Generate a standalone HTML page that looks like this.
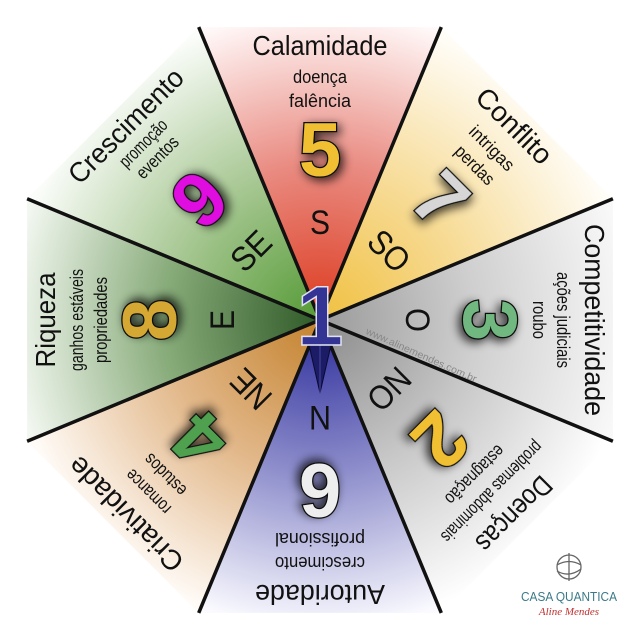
<!DOCTYPE html>
<html><head><meta charset="utf-8"><style>
html,body{margin:0;padding:0;background:#fff;}
svg{display:block;}
.t{font-family:"Liberation Sans",sans-serif;fill:#111;text-anchor:middle;}
.d{font-family:"Liberation Sans",sans-serif;font-weight:bold;font-size:76px;text-anchor:middle;stroke:#111;stroke-width:2.5;paint-order:stroke;}
</style></head><body>
<svg width="640" height="640" viewBox="0 0 640 640" xmlns="http://www.w3.org/2000/svg">
<defs>
<radialGradient id="g0" gradientUnits="userSpaceOnUse" cx="320" cy="320" r="310"><stop offset="0" stop-color="#dc3a1e"/><stop offset="0.5" stop-color="#e98a80"/><stop offset="1" stop-color="#fff8f8"/></radialGradient>
<radialGradient id="g1" gradientUnits="userSpaceOnUse" cx="320" cy="320" r="310"><stop offset="0" stop-color="#f0c040"/><stop offset="0.5" stop-color="#f7dc98"/><stop offset="1" stop-color="#fffdf8"/></radialGradient>
<radialGradient id="g2" gradientUnits="userSpaceOnUse" cx="320" cy="320" r="310"><stop offset="0" stop-color="#9a9a9a"/><stop offset="0.5" stop-color="#cfcfcf"/><stop offset="1" stop-color="#f8f8f8"/></radialGradient>
<radialGradient id="g3" gradientUnits="userSpaceOnUse" cx="320" cy="320" r="310"><stop offset="0" stop-color="#8a8a8a"/><stop offset="0.5" stop-color="#c8c8c8"/><stop offset="1" stop-color="#ffffff"/></radialGradient>
<radialGradient id="g4" gradientUnits="userSpaceOnUse" cx="320" cy="320" r="310"><stop offset="0" stop-color="#2a2a9a"/><stop offset="0.5" stop-color="#8e8ecc"/><stop offset="1" stop-color="#fafaff"/></radialGradient>
<radialGradient id="g5" gradientUnits="userSpaceOnUse" cx="320" cy="320" r="310"><stop offset="0" stop-color="#c4822e"/><stop offset="0.5" stop-color="#e2b88a"/><stop offset="1" stop-color="#fffbf7"/></radialGradient>
<radialGradient id="g6" gradientUnits="userSpaceOnUse" cx="320" cy="320" r="310"><stop offset="0" stop-color="#2f5a28"/><stop offset="0.5" stop-color="#86aa78"/><stop offset="1" stop-color="#f2f7f0"/></radialGradient>
<radialGradient id="g7" gradientUnits="userSpaceOnUse" cx="320" cy="320" r="310"><stop offset="0" stop-color="#559a35"/><stop offset="0.5" stop-color="#a8c894"/><stop offset="1" stop-color="#fbfdfa"/></radialGradient>
<filter id="sh" x="-50%" y="-50%" width="200%" height="200%">
<feGaussianBlur in="SourceAlpha" stdDeviation="5"/><feOffset dx="3" dy="3"/><feComponentTransfer><feFuncA type="linear" slope="0.8"/></feComponentTransfer>
<feMerge><feMergeNode/><feMergeNode in="SourceGraphic"/></feMerge></filter>
</defs>
<polygon points="320,320 198.7,27.1 441.3,27.1" fill="url(#g0)"/>
<polygon points="320,320 441.3,27.1 612.9,198.7" fill="url(#g1)"/>
<polygon points="320,320 612.9,198.7 612.9,441.3" fill="url(#g2)"/>
<polygon points="320,320 612.9,441.3 441.3,612.9" fill="url(#g3)"/>
<polygon points="320,320 441.3,612.9 198.7,612.9" fill="url(#g4)"/>
<polygon points="320,320 198.7,612.9 27.1,441.3" fill="url(#g5)"/>
<polygon points="320,320 27.1,441.3 27.1,198.7" fill="url(#g6)"/>
<polygon points="320,320 27.1,198.7 198.7,27.1" fill="url(#g7)"/>
<g stroke="#111" stroke-width="3.5">
<line x1="320" y1="320" x2="198.7" y2="27.1"/><line x1="320" y1="320" x2="441.3" y2="27.1"/>
<line x1="320" y1="320" x2="612.9" y2="198.7"/><line x1="320" y1="320" x2="612.9" y2="441.3"/>
<line x1="320" y1="320" x2="441.3" y2="612.9"/><line x1="320" y1="320" x2="198.7" y2="612.9"/>
<line x1="320" y1="320" x2="27.1" y2="441.3"/><line x1="320" y1="320" x2="27.1" y2="198.7"/>
</g>
<text x="420" y="358" transform="rotate(24 420 358)" font-family="Liberation Sans,sans-serif" font-size="10" fill="#888" text-anchor="middle" textLength="120" lengthAdjust="spacingAndGlyphs">www.alinemendes.com.br</text>
<g transform="translate(320,320)">
<g>
<text class="t" y="-265" font-size="28" textLength="135" lengthAdjust="spacingAndGlyphs">Calamidade</text><text class="t" y="-237" font-size="18" textLength="54" lengthAdjust="spacingAndGlyphs">doença</text><text class="t" y="-213" font-size="18" textLength="62" lengthAdjust="spacingAndGlyphs">falência</text>
<text class="d" y="-144" fill="#f0c030" filter="url(#sh)">5</text><text class="t" y="-86" font-size="34" textLength="20" lengthAdjust="spacingAndGlyphs">S</text></g>
<g transform="rotate(45)">
<text class="t" y="-265" font-size="28" textLength="95" lengthAdjust="spacingAndGlyphs">Conflito</text><text class="t" y="-237" font-size="18" textLength="56" lengthAdjust="spacingAndGlyphs">intrigas</text><text class="t" y="-213" font-size="18" textLength="48" lengthAdjust="spacingAndGlyphs">perdas</text>
<text class="d" y="-144" fill="#d6d6d6" filter="url(#sh)">7</text><text class="t" y="-86" font-size="34" textLength="44" lengthAdjust="spacingAndGlyphs">SO</text></g>
<g transform="rotate(90)">
<text class="t" y="-265" font-size="28" textLength="192" lengthAdjust="spacingAndGlyphs">Competitividade</text><text class="t" y="-237" font-size="18" textLength="96" lengthAdjust="spacingAndGlyphs">ações judiciais</text><text class="t" y="-213" font-size="18" textLength="38" lengthAdjust="spacingAndGlyphs">roubo</text>
<text class="d" y="-144" fill="#70b880" filter="url(#sh)">3</text><text class="t" y="-86" font-size="34" textLength="24" lengthAdjust="spacingAndGlyphs">O</text></g>
<g transform="rotate(135)">
<text class="t" y="-265" font-size="28" textLength="95" lengthAdjust="spacingAndGlyphs">Doenças</text><text class="t" y="-237" font-size="18" textLength="135" lengthAdjust="spacingAndGlyphs">problemas abdominais</text><text class="t" y="-213" font-size="18" textLength="76" lengthAdjust="spacingAndGlyphs">estagnação</text>
<text class="d" y="-144" fill="#f0c030" filter="url(#sh)">2</text><text class="t" y="-86" font-size="34" textLength="46" lengthAdjust="spacingAndGlyphs">NO</text></g>
<g transform="rotate(180)">
<text class="t" y="-265" font-size="28" textLength="130" lengthAdjust="spacingAndGlyphs">Autoridade</text><text class="t" y="-237" font-size="18" textLength="90" lengthAdjust="spacingAndGlyphs">crescimento</text><text class="t" y="-213" font-size="18" textLength="90" lengthAdjust="spacingAndGlyphs">profissional</text>
<text class="d" y="-144" fill="#eeeeee" filter="url(#sh)">6</text><text class="t" y="-86" font-size="34" textLength="22" lengthAdjust="spacingAndGlyphs">N</text></g>
<g transform="rotate(225)">
<text class="t" y="-265" font-size="28" textLength="150" lengthAdjust="spacingAndGlyphs">Criatividade</text><text class="t" y="-237" font-size="18" textLength="56" lengthAdjust="spacingAndGlyphs">romance</text><text class="t" y="-213" font-size="18" textLength="52" lengthAdjust="spacingAndGlyphs">estudos</text>
<text class="d" y="-144" fill="#50a050" filter="url(#sh)">4</text><text class="t" y="-86" font-size="34" textLength="42" lengthAdjust="spacingAndGlyphs">NE</text></g>
<g transform="rotate(270)">
<text class="t" y="-265" font-size="28" textLength="95" lengthAdjust="spacingAndGlyphs">Riqueza</text><text class="t" y="-237" font-size="18" textLength="102" lengthAdjust="spacingAndGlyphs">ganhos estáveis</text><text class="t" y="-213" font-size="18" textLength="86" lengthAdjust="spacingAndGlyphs">propriedades</text>
<text class="d" y="-144" fill="#d4a830" filter="url(#sh)">8</text><text class="t" y="-86" font-size="34" textLength="20" lengthAdjust="spacingAndGlyphs">E</text></g>
<g transform="rotate(315)">
<text class="t" y="-265" font-size="28" textLength="150" lengthAdjust="spacingAndGlyphs">Crescimento</text><text class="t" y="-244" font-size="18" textLength="60" lengthAdjust="spacingAndGlyphs">promoção</text><text class="t" y="-224" font-size="18" textLength="52" lengthAdjust="spacingAndGlyphs">eventos</text>
<text class="d" y="-144" fill="#e010e0" filter="url(#sh)">9</text><text class="t" y="-86" font-size="34" textLength="42" lengthAdjust="spacingAndGlyphs">SE</text></g>
</g>
<polygon points="309,345 331,345 320,393" fill="#1c1c66" stroke="#0a0a30" stroke-width="1"/>
<line x1="320" y1="345" x2="320" y2="393" stroke="#4848a0" stroke-width="1"/>
<text x="320" y="345" font-family="Liberation Sans,sans-serif" font-weight="bold" font-size="84" fill="#343494" stroke="#e0e0f0" stroke-width="1.5" text-anchor="middle">1</text>
<g fill="none" stroke="#666" stroke-width="1.3">
<circle cx="569" cy="567" r="12"/><line x1="569" y1="553" x2="569" y2="581"/>
<path d="M557,565 Q569,558 581,565 M557,571 Q569,578 581,569"/>
</g>
<text x="569" y="601" font-family="Liberation Sans,sans-serif" font-size="13" fill="#3a7a88" text-anchor="middle" textLength="96" lengthAdjust="spacingAndGlyphs">CASA QUANTICA</text>
<text x="569" y="615" font-family="Liberation Serif,serif" font-style="italic" font-size="11" fill="#c03030" text-anchor="middle">Aline Mendes</text>
</svg>
</body></html>
